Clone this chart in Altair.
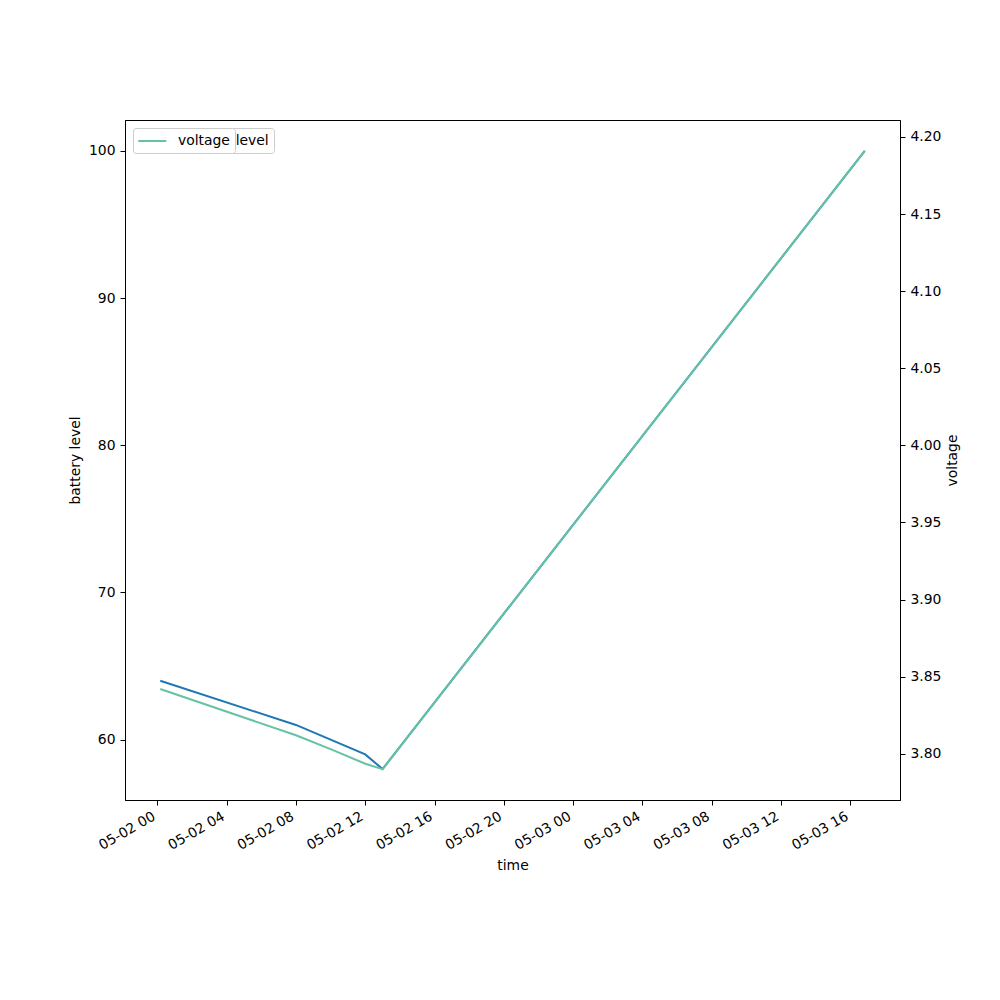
import altair as alt
import pandas as pd

times = ["2024-05-02T00:10:00Z", "2024-05-02T08:00:00Z", "2024-05-02T10:00:00Z",
         "2024-05-02T12:00:00Z", "2024-05-02T13:00:00Z", "2024-05-03T16:50:00Z"]
battery_level = [64, 61, 60, 59, 58, 100]
voltage = [3.842, 3.812, 3.803, 3.7935, 3.790, 4.191]

x_domain = ["2024-05-01T22:08:00Z", "2024-05-03T18:52:00Z"]
x_ticks = ["2024-05-02T00:00:00Z", "2024-05-02T04:00:00Z", "2024-05-02T08:00:00Z",
           "2024-05-02T12:00:00Z", "2024-05-02T16:00:00Z", "2024-05-02T20:00:00Z",
           "2024-05-03T00:00:00Z", "2024-05-03T04:00:00Z", "2024-05-03T08:00:00Z",
           "2024-05-03T12:00:00Z", "2024-05-03T16:00:00Z"]
battery_domain = [55.9, 102.1]
voltage_domain = [3.770, 4.211]
battery_ticks = [60, 70, 80, 90, 100]
voltage_ticks = [3.80, 3.85, 3.90, 3.95, 4.00, 4.05, 4.10, 4.15, 4.20]

df = pd.DataFrame({"time": times, "battery_level": battery_level, "voltage": voltage})
to_ms = lambda t: int(pd.Timestamp(t).value // 10**6)
xd = [to_ms(t) for t in x_domain]
xt = [to_ms(t) for t in x_ticks]

FONT = "DejaVu Sans"
FS = 13.9

x_enc = alt.X(
    "time:T",
    scale=alt.Scale(type="utc", domain=xd, nice=False),
    axis=alt.Axis(
        title="time",
        values=xt,
        labelExpr="utcFormat(datum.value, '%m-%d %H')",
        labelAngle=-30, labelAlign="right", labelBaseline="top",
        labelOffset=-7, labelPadding=4, tickSize=5, grid=False,
        titlePadding=6,
    ),
)

legend_common = dict(
    title=None, orient="none", legendX=8, legendY=8,
    fillColor="white", strokeColor="#cccccc", cornerRadius=3, padding=5,
    symbolType="M-1.1,0H2.9", symbolSize=196, symbolStrokeWidth=2, labelOffset=24,
    labelFont=FONT, labelFontSize=FS, labelColor="black",
)

battery = alt.Chart(df).transform_calculate(series="'battery_level'").mark_line(
    strokeWidth=2
).encode(
    x=x_enc,
    y=alt.Y("battery_level:Q",
            scale=alt.Scale(domain=battery_domain, nice=False, zero=False),
            axis=alt.Axis(title="battery level", values=battery_ticks, grid=False,
                          tickSize=5, labelPadding=5, titlePadding=6, orient="left")),
    color=alt.Color("series:N", scale=alt.Scale(domain=["battery_level"], range=["#1f77b4"]),
                    legend=alt.Legend(**legend_common)),
)

volt = alt.Chart(df).transform_calculate(series="'voltage'").mark_line(
    strokeWidth=2
).encode(
    x=x_enc,
    y=alt.Y("voltage:Q",
            scale=alt.Scale(domain=voltage_domain, nice=False, zero=False),
            axis=alt.Axis(title="voltage", values=voltage_ticks, format=".2f", grid=False,
                          tickSize=5, labelPadding=5, titlePadding=5, titleAngle=270,
                          titleBaseline="top", orient="right")),
    color=alt.Color("series:N", scale=alt.Scale(domain=["voltage"], range=["#66c2a5"]),
                    legend=alt.Legend(**legend_common)),
)

chart = alt.layer(battery, volt).resolve_scale(
    y="independent", color="independent"
).resolve_legend(color="independent").properties(
    width=775, height=680,
    background="white",
    autosize=alt.AutoSizeParams(type="none"),
    padding={"left": 117, "top": 112, "right": 92, "bottom": 180},
).configure_view(
    stroke="black", strokeWidth=1
).configure_axis(
    labelFont=FONT, labelFontSize=FS, labelColor="black",
    titleFont=FONT, titleFontSize=FS, titleColor="black", titleFontWeight="normal",
    domainColor="black", tickColor="black", domainWidth=1, tickWidth=1,
)

chart.save("out.html", embed_options={"renderer": "svg", "actions": False})
